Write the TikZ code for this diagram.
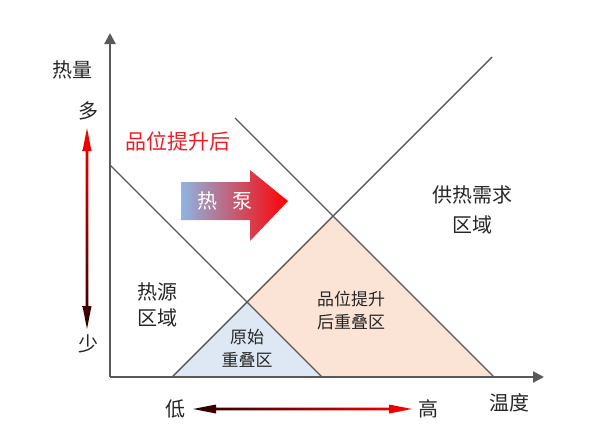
\documentclass[tikz,border=0pt]{standalone}
\usepackage{fontspec}
\setmainfont{Noto Sans CJK SC}
\usetikzlibrary{arrows.meta}
\definecolor{axisgray}{HTML}{595959}
\definecolor{textgray}{HTML}{262626}
\definecolor{bluefill}{HTML}{DEE8F4}
\definecolor{peachfill}{HTML}{FBE4D5}
\definecolor{heatblue}{HTML}{8DB4E3}
\definecolor{gradered}{HTML}{EE1C25}
\definecolor{darkend}{HTML}{2A0000}
\begin{document}
\begin{tikzpicture}[x=1pt,y=-1pt,>={Triangle[length=11pt,width=11pt]},
  axis/.style={draw=axisgray,line width=2.2pt},
  bound/.style={draw=axisgray,line width=1.4pt},
  lbl/.style={font=\fontsize{20}{26}\selectfont,align=center,text=textgray},
  small/.style={font=\fontsize{17}{23}\selectfont,align=center,text=textgray}]
\useasboundingbox (0,0) rectangle (594,440);
% axes and boundary lines
\coordinate (o) at (110,377); \coordinate (ytop) at (110,33); \coordinate (xend) at (544,377);
\coordinate (s1) at (110,165); \coordinate (s1e) at (322,377);
\coordinate (d1) at (172,377); \coordinate (d1e) at (492,57);
\coordinate (s2) at (235,118); \coordinate (s2e) at (494,377);
\coordinate (p) at (intersection of s1--s1e and d1--d1e);
\coordinate (q) at (intersection of s2--s2e and d1--d1e);
\fill[bluefill] (d1) -- (p) -- (s1e) -- cycle;
\fill[peachfill] (p) -- (q) -- (s2e) -- (s1e) -- cycle;
\draw[bound] (s1) -- (s1e); \draw[bound] (d1) -- (d1e); \draw[bound] (s2) -- (s2e);
\draw[axis,->] (o) -- (ytop); \draw[axis,->] (o) -- (xend);
% heat pump arrow
\shade[left color=heatblue,right color=red] (181,182) -- (250,182) -- (250,170) -- (288,201) -- (250,241) -- (250,220) -- (181,220) -- cycle;
\node[text=white,font=\fontsize{20}{24}\selectfont] (hp) at (225,201) {热\hspace{15pt}泵};
% quantity and temperature arrows
\shade[top color=red,bottom color=darkend] (87,128) -- (91.5,151) -- (88.4,151) -- (88.4,306) -- (91.5,306) -- (87,329) -- (82.5,306) -- (85.6,306) -- (85.6,151) -- (82.5,151) -- cycle;
\shade[left color=darkend,right color=red] (193,409) -- (216,404.5) -- (216,407.6) -- (389,407.6) -- (389,404.5) -- (412,409) -- (389,413.5) -- (389,410.4) -- (216,410.4) -- (216,413.5) -- cycle;
% labels
\node[lbl] (qty) at (72,70) {热量};
\node[lbl] (more) at (88,111) {多};
\node[lbl] (less) at (88,344) {少};
\node[lbl] (low) at (175,409) {低};
\node[lbl] (high) at (428,409) {高};
\node[lbl] (temp) at (509,403) {温度};
\node[lbl,text=gradered,font=\fontsize{21}{26}\selectfont] (after) at (178,141) {品位提升后};
\node[lbl] (demand) at (472,210) {供热需求\\[4pt]区域};
\node[lbl] (source) at (157,305) {热源\\区域};
\node[small] (orig) at (247,348) {原始\\重叠区};
\node[small] (newov) at (351,310) {品位提升\\后重叠区};
\end{tikzpicture}
\end{document}
